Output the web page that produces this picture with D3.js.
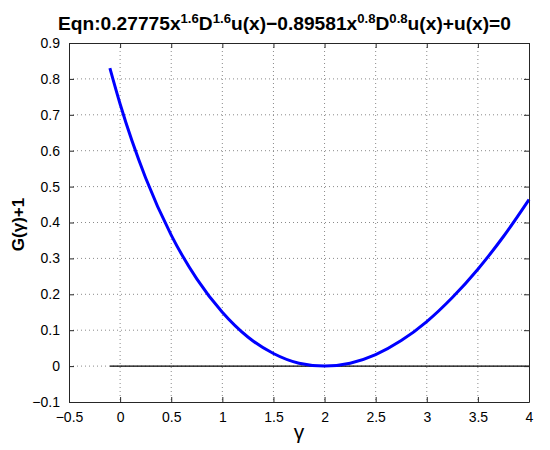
<!DOCTYPE html>
<html><head><meta charset="utf-8">
<script src="https://cdn.jsdelivr.net/npm/d3@7"></script>
<style>body{margin:0;background:#fff}svg{display:block}text{font-family:"Liberation Sans",Arial,Helvetica,sans-serif}</style>
</head><body>
<svg id="c" width="550" height="450"></svg>
<script>
const gammaVals = [-0.1, 0, 0.25, 0.5, 0.75, 1, 1.25, 1.5, 1.75, 2, 2.25, 2.5, 2.75, 3, 3.25, 3.5, 3.75, 4];
const gPlus1 = [0.830, 0.730, 0.524, 0.365, 0.243, 0.150, 0.081, 0.035, 0.008, 0.000, 0.008, 0.032, 0.071, 0.124, 0.191, 0.270, 0.361, 0.464];
const zeroLineX = [-0.1, 4];
const xTicks = [-0.5, 0, 0.5, 1, 1.5, 2, 2.5, 3, 3.5, 4];
const yTicks = [-0.1, 0, 0.1, 0.2, 0.3, 0.4, 0.5, 0.6, 0.7, 0.8, 0.9];

const svg = d3.select("#c");
const L = 69, R = 529, T = 43, B = 402;
const x = d3.scaleLinear().domain([-0.5, 4]).range([L, R]);
const y = d3.scaleLinear().domain([-0.1, 0.9]).range([B, T]);
const axisColor = "#262626";

// grid
const grid = svg.append("g");
grid.selectAll("line.gx").data(xTicks.slice(1, -1)).enter().append("line")
  .attr("x1", d => x(d)).attr("x2", d => x(d)).attr("y1", T).attr("y2", B)
  .attr("stroke", "#8a8a8a").attr("stroke-width", 1).attr("stroke-dasharray", "1,3");
grid.selectAll("line.gy").data(yTicks.slice(1, -1)).enter().append("line")
  .attr("y1", d => y(d)).attr("y2", d => y(d)).attr("x1", L).attr("x2", R)
  .attr("stroke", "#8a8a8a").attr("stroke-width", 1).attr("stroke-dasharray", "1,3");

// zero line
svg.append("line").attr("x1", x(zeroLineX[0])).attr("x2", x(zeroLineX[1]))
  .attr("y1", y(0)).attr("y2", y(0)).attr("stroke", "#000").attr("stroke-width", 1.2);

// curve
const pts = gammaVals.map((g, i) => [g, gPlus1[i]]);
svg.append("path").datum(pts)
  .attr("d", d3.line().x(d => x(d[0])).y(d => y(d[1])).curve(d3.curveMonotoneX))
  .attr("fill", "none").attr("stroke", "#0000ff").attr("stroke-width", 3);

// axes (ticks inward)
const ax = (gen, tr) => svg.append("g").attr("transform", tr).call(gen);
const styleAx = g => {
  g.select(".domain").attr("stroke", axisColor);
  g.selectAll(".tick line").attr("stroke", axisColor);
  g.selectAll("text").attr("fill", "#000").attr("font-size", 14);
};
const fmt = d => (d < 0 ? "\u2212" : "") + Math.abs(d);
styleAx(ax(d3.axisBottom(x).tickValues(xTicks).tickSize(-5).tickSizeOuter(0).tickPadding(10).tickFormat(fmt), `translate(0,${B})`));
styleAx(ax(d3.axisTop(x).tickValues(xTicks).tickSize(-5).tickSizeOuter(0).tickFormat(""), `translate(0,${T})`));
styleAx(ax(d3.axisLeft(y).tickValues(yTicks).tickSize(-5).tickSizeOuter(0).tickPadding(9).tickFormat(fmt), `translate(${L},0)`));
styleAx(ax(d3.axisRight(y).tickValues(yTicks).tickSize(-5).tickSizeOuter(0).tickFormat(""), `translate(${R},0)`));

// title
const title = svg.append("text").attr("x", 58).attr("y", 30)
  .attr("font-size", 19).attr("font-weight", "bold").attr("fill", "#000");
const parts = [["Eqn:0.27775x", 0], ["1.6", 1], ["D", 0], ["1.6", 1], ["u(x)\u22120.89581x", 0], ["0.8", 1], ["D", 0], ["0.8", 1], ["u(x)+u(x)=0", 0]];
parts.forEach(([t, s], i) => {
  const ts = title.append("tspan").text(t);
  if (s) ts.attr("font-size", 13).attr("dy", -7);
  else ts.attr("dy", (i > 0 && parts[i - 1][1]) ? 7 : 0);
});
title.attr("textLength", 453).attr("lengthAdjust", "spacingAndGlyphs");

// axis labels
svg.append("text").attr("x", x(1.75)).attr("y", 439).attr("text-anchor", "middle")
  .attr("font-family", "'Liberation Serif','DejaVu Serif',serif")
  .attr("font-size", 21).text("\u03b3");
svg.append("text").attr("transform", `translate(24,${(T + B) / 2 + 2}) rotate(-90)`)
  .attr("text-anchor", "middle").attr("font-size", 17).attr("font-weight", "bold").text("G(\u03b3)+1");
</script>
</body></html>
